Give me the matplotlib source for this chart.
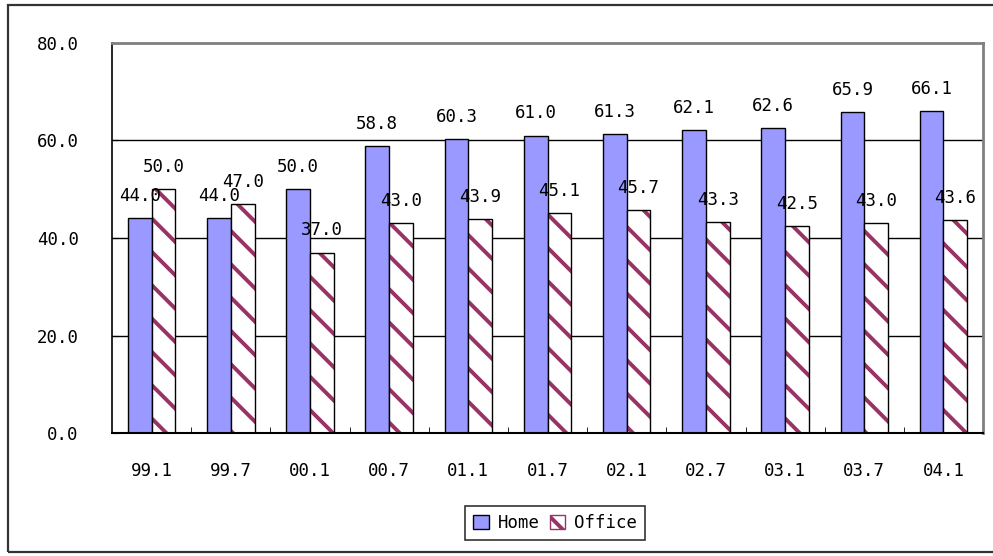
import matplotlib.pyplot as plt
from matplotlib.patches import Rectangle
import numpy as np

plt.rcParams['font.family'] = ['DejaVu Sans Mono']
plt.rcParams['hatch.linewidth'] = 2.8

# data
periods = ['99.1', '99.7', '00.1', '00.7', '01.1', '01.7', '02.1', '02.7', '03.1', '03.7', '04.1']
home = [44.0, 44.0, 50.0, 58.8, 60.3, 61.0, 61.3, 62.1, 62.6, 65.9, 66.1]
office = [50.0, 47.0, 37.0, 43.0, 43.9, 45.1, 45.7, 43.3, 42.5, 43.0, 43.6]

fig = plt.figure(figsize=(9.93, 5.56), dpi=100)
ax = fig.add_axes([0.1128, 0.2212, 0.8772, 0.7015])

x = np.arange(len(periods))
w = 0.3
b1 = ax.bar(x - w / 2, home, w, color='#9999FF', edgecolor='black', linewidth=1, label='Home')
# hatch takes the edge colour, so draw the maroon hatch first, black outline on top
b2 = ax.bar(x + w / 2, office, w, color='white', edgecolor='#993366', linewidth=0,
            hatch='\\', label='Office')
ax.bar(x + w / 2, office, w, fill=False, edgecolor='black', linewidth=1)

for bars, vals in [(b1, home), (b2, office)]:
    for r, v in zip(bars, vals):
        ax.annotate('%.1f' % v, (r.get_x() + r.get_width() / 2, v),
                    xytext=(0, 16), textcoords='offset points',
                    ha='center', va='center', fontsize=12.5)

ax.set_ylim(0, 80)
ax.set_xlim(-0.5, len(periods) - 0.5)
ax.set_yticks([0, 20, 40, 60, 80])
ax.set_yticklabels(['%.1f' % t for t in [0, 20, 40, 60, 80]], fontsize=12.5)
ax.set_xticks(x)
ax.set_xticklabels(periods, fontsize=12.5)
ax.set_xticks(x[:-1] + 0.5, minor=True)
ax.tick_params(axis='x', which='major', length=0, pad=21)
ax.tick_params(axis='x', which='minor', direction='in', length=4, color='black')
ax.tick_params(axis='y', direction='in', length=4, pad=24)

for yv in [20, 40, 60]:
    ax.axhline(yv, color='black', linewidth=1, zorder=0.5)

ax.spines['top'].set_color('#808080')
ax.spines['right'].set_color('#808080')
ax.spines['top'].set_linewidth(2)
ax.spines['right'].set_linewidth(2)
ax.spines['left'].set_linewidth(1.2)
ax.spines['bottom'].set_linewidth(1.5)

office_handle = Rectangle((0, 0), 1, 1, facecolor='white', edgecolor='#993366', hatch='\\')
leg = fig.legend(handles=[b1, office_handle], labels=['Home', 'Office'],
                 loc='center', bbox_to_anchor=(0.559, 0.059),
                 ncol=2, fontsize=12.5, frameon=True, fancybox=False,
                 edgecolor='black', handlelength=0.9, handleheight=0.9,
                 handletextpad=0.5, columnspacing=0.6, borderpad=0.45)
leg.get_frame().set_linewidth(1.2)

fig.patches.append(Rectangle((8 / 993, 4 / 556), 1.0, 1 - 9 / 556,
                             transform=fig.transFigure, fill=False,
                             edgecolor='#333333', linewidth=1.6))

fig.savefig('out.png', dpi=100)
